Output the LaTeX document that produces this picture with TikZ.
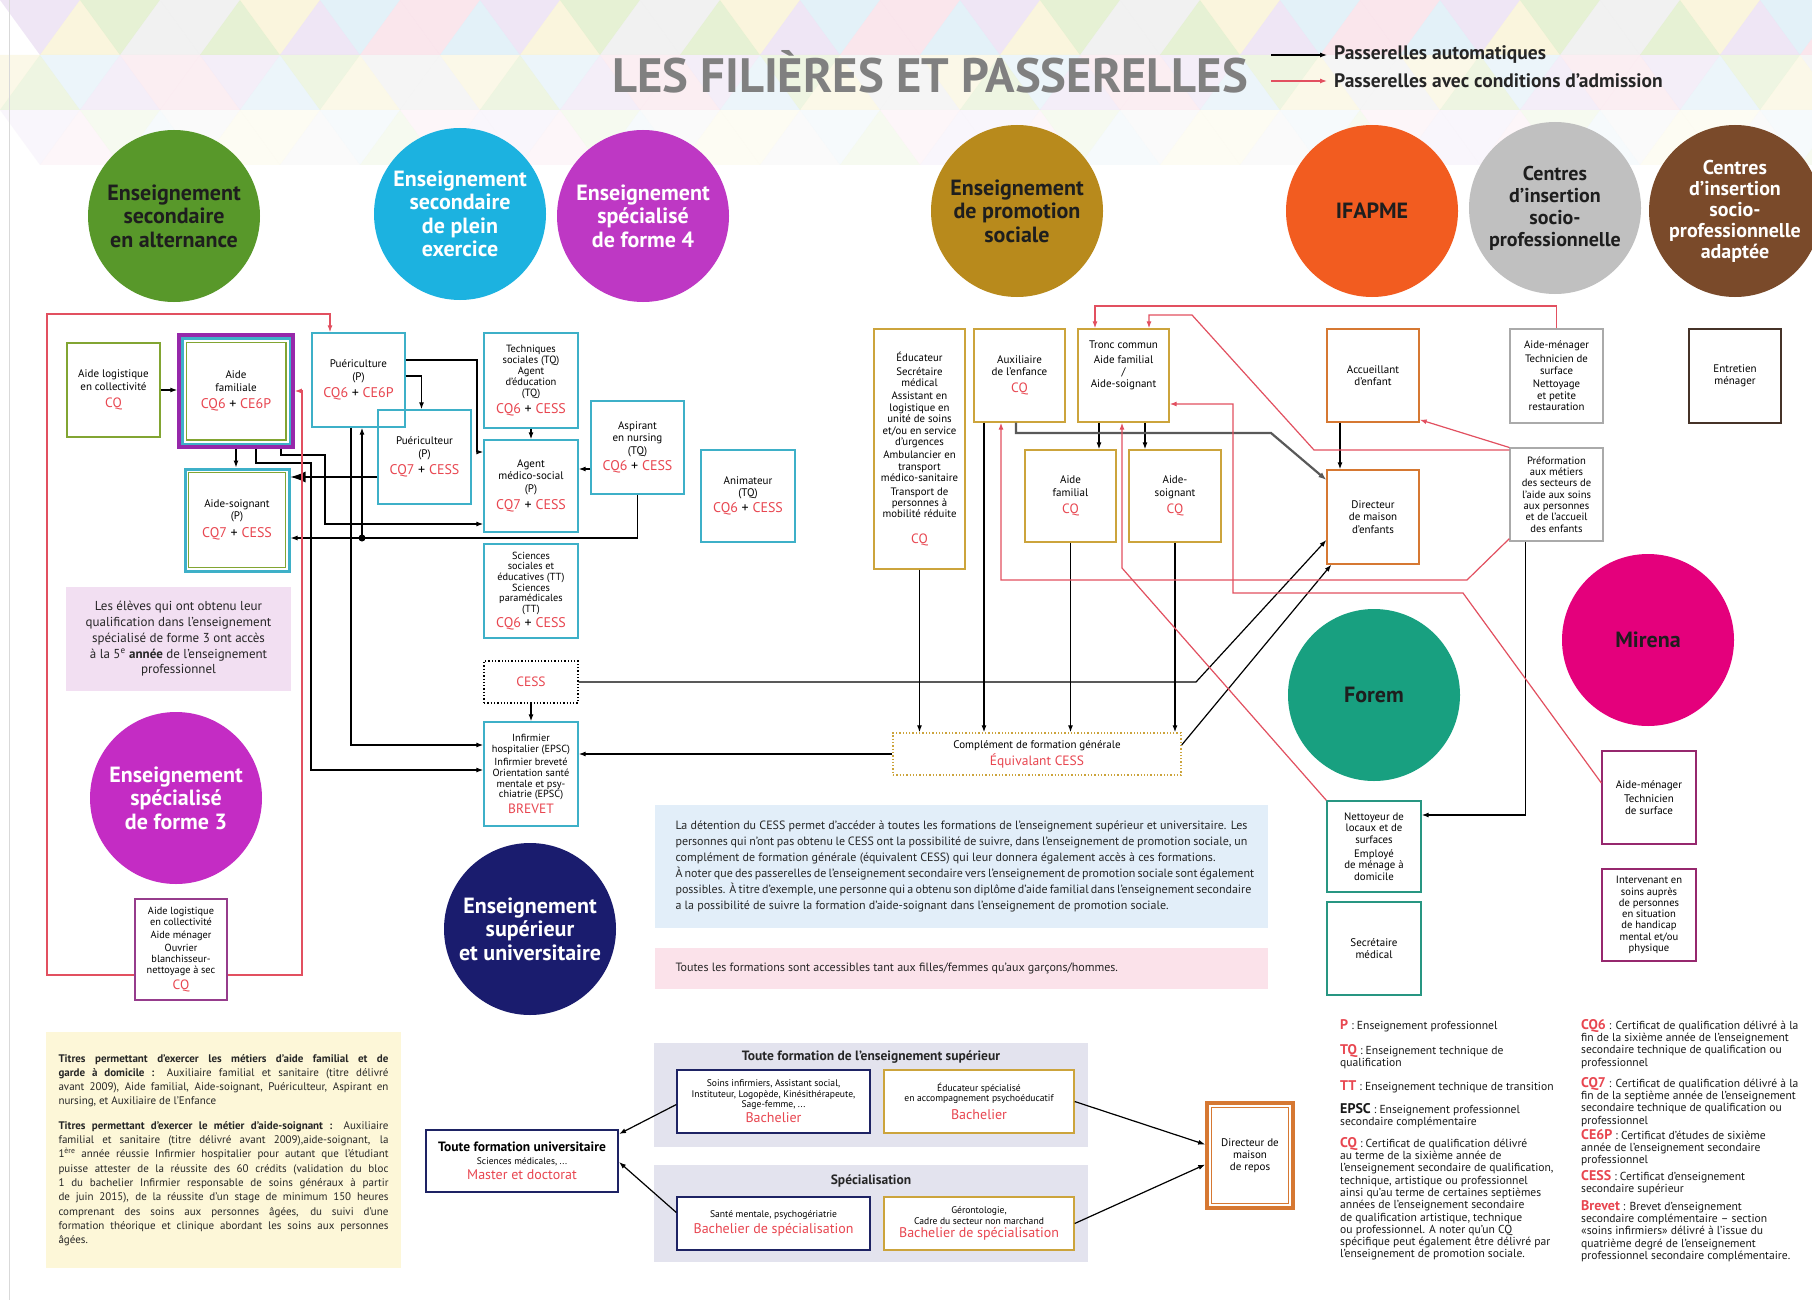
\documentclass[tikz,border=0pt]{standalone}
\usepackage{fontspec}
\setmainfont{PT Sans}
\usepackage{graphicx}
\usetikzlibrary{arrows.meta}
\definecolor{cgreen}{RGB}{88,152,42}
\definecolor{ccyan}{RGB}{28,178,224}
\definecolor{cpurple}{RGB}{190,56,196}
\definecolor{cgold}{RGB}{184,138,28}
\definecolor{corange}{RGB}{242,92,32}
\definecolor{cgray}{RGB}{192,192,192}
\definecolor{cbrown}{RGB}{122,74,42}
\definecolor{cpink}{RGB}{196,44,196}
\definecolor{cnavy}{RGB}{26,28,110}
\definecolor{cforem}{RGB}{24,160,128}
\definecolor{cmirena}{RGB}{228,0,124}
\definecolor{cdark}{RGB}{30,30,30}
\definecolor{cyb}{RGB}{62,176,200}
\definecolor{olive}{RGB}{130,165,50}
\definecolor{pframe}{RGB}{150,40,170}
\definecolor{goldb}{RGB}{204,164,60}
\definecolor{borange}{RGB}{214,120,50}
\definecolor{grayb}{RGB}{170,170,170}
\definecolor{tealb}{RGB}{40,150,130}
\definecolor{magb}{RGB}{150,40,110}
\definecolor{bnavy}{RGB}{30,35,100}
\definecolor{entb}{RGB}{70,50,40}
\definecolor{f3box}{RGB}{150,60,140}
\definecolor{pasred}{RGB}{226,80,96}
\definecolor{txtred}{RGB}{232,70,80}
\definecolor{titlegray}{RGB}{128,128,128}
\definecolor{infoblue}{RGB}{226,238,249}
\definecolor{pinkbg}{RGB}{251,226,234}
\definecolor{notebg}{RGB}{242,223,242}
\definecolor{yelbg}{RGB}{253,247,216}
\definecolor{panelgray}{RGB}{227,227,238}
\definecolor{tri0}{RGB}{200,225,160}
\definecolor{tri1}{RGB}{220,200,235}
\definecolor{tri2}{RGB}{245,200,215}
\definecolor{tri3}{RGB}{195,225,240}
\definecolor{tri4}{RGB}{245,235,180}
\definecolor{tri5}{RGB}{225,225,225}
\newcommand\rtx[1]{{\fontsize{13.5}{14}\selectfont\color{txtred}#1}}
\newcommand\combo[2]{{\fontsize{14}{15}\selectfont\textcolor{txtred}{#1} + \textcolor{txtred}{#2}}}
\newcommand\lterm[1]{{\fontsize{14}{12}\selectfont\bfseries\color{txtred}#1}}
\begin{document}
\begin{tikzpicture}[x=1pt,y=-1pt,
  bx/.style={draw, line width=1.3pt, fill=white, align=center, inner sep=2pt,
    font=\fontsize{11}{12.3}\selectfont, text=black},
  aut/.style={draw=black, line width=1.2pt, -{Latex[length=7pt,width=5pt]}},
  pas/.style={draw=pasred, line width=1.2pt, -{Latex[length=7pt,width=5pt]}},
  graut/.style={draw=black!65, line width=2.2pt, -{Latex[length=8pt,width=6pt]}},
  circ/.style={circle, minimum size=172pt, inner sep=0pt, align=center,
    font=\fontsize{22}{23.5}\selectfont\bfseries},
  leg/.style={anchor=north west, align=left, inner sep=0pt,
    font=\fontsize{11.6}{12.3}\selectfont, text=black!90}]
\useasboundingbox (0,0) rectangle (1812,1300);
\clip (0,0) rectangle (1812,1300);
\fill[white] (0,0) rectangle (1812,1300);
% background triangles
\foreach \j in {0,1,2}{
  \foreach \i in {0,...,23}{
    \pgfmathtruncatemacro\ca{mod(\i*5+\j*3+1,6)}
    \pgfmathtruncatemacro\cb{mod(\i*7+\j*2+4,6)}
    \pgfmathsetmacro\op{0.45-0.15*\j}
    \pgfmathsetmacro\xo{\i*80-40*mod(\j,2)}
    \fill[tri\ca, opacity=\op] (\xo,\j*55) -- ++(80,0) -- ++(-40,55) -- cycle;
    \fill[tri\cb, opacity=\op] (\xo+40,\j*55+55) -- ++(40,-55) -- ++(40,55) -- cycle;
  }
}
\draw[black!15, line width=1pt] (9,0) -- (9,1300);
% title and legend
\node[text=titlegray, inner sep=0pt] (title) at (930,72) {\resizebox{636pt}{42pt}{\bfseries LES FILIÈRES ET PASSERELLES}};
\coordinate (la1) at (1271,55); \coordinate (la2) at (1327,55);
\coordinate (lb1) at (1271,81); \coordinate (lb2) at (1327,81);
\draw[aut] (la1) -- (la2);
\draw[pas] (lb1) -- (lb2);
\node[anchor=west, inner sep=0pt, font=\fontsize{19.5}{20}\selectfont\bfseries, text=black!85] (lta) at (1334,55) {Passerelles automatiques};
\node[anchor=west, inner sep=0pt, font=\fontsize{19.5}{20}\selectfont\bfseries, text=black!85] (ltb) at (1334,81) {Passerelles avec conditions d'admission};
% circles
\node[circ, fill=cgreen, text=cdark] (c1) at (174,216) {Enseignement\\secondaire\\en alternance};
\node[circ, fill=ccyan, text=white] (c2) at (460,214) {Enseignement\\secondaire\\de plein\\exercice};
\node[circ, fill=cpurple, text=white] (c3) at (643,216) {Enseignement\\spécialisé\\de forme 4};
\node[circ, fill=cgold, text=cdark] (c4) at (1017,211) {Enseignement\\de promotion\\sociale};
\node[circ, fill=corange, text=cdark] (c5) at (1372,211) {IFAPME};
\node[circ, fill=cgray, text=cdark, font=\fontsize{20}{22}\selectfont\bfseries] (c6) at (1555,208) {Centres\\d'insertion\\socio-\\professionnelle};
\node[circ, fill=cbrown, text=white, font=\fontsize{20}{21}\selectfont\bfseries] (c7) at (1735,211) {Centres\\d'insertion\\socio-\\professionnelle\\adaptée};
\node[circ, fill=cpink, text=white] (c8) at (176,798) {Enseignement\\spécialisé\\de forme 3};
\node[circ, fill=cnavy, text=white] (c9) at (530,929) {Enseignement\\supérieur\\et universitaire};
\node[circ, fill=cforem, text=cdark] (c10) at (1374,695) {Forem};
\node[circ, fill=cmirena, text=cdark] (c11) at (1648,640) {Mirena};
% text panels
\node[fill=notebg, minimum width=225pt, minimum height=104pt, align=center, text=black!85,
  font=\fontsize{13}{15.8}\selectfont] (note) at (178.5,639) {Les élèves qui ont obtenu leur\\qualification dans l'enseignement\\spécialisé de forme 3 ont accès\\à la 5\textsuperscript{e} \textbf{année} de l'enseignement\\professionnel};
\node[fill=infoblue, minimum width=613pt, minimum height=123pt, align=left, inner sep=0pt, text=black!85,
  font=\fontsize{12}{16.1}\selectfont] (info) at (961.5,866.5) {%
\makebox[572pt][s]{La détention du CESS permet d'accéder à toutes les formations de l'enseignement supérieur et universitaire. Les}\\
\makebox[572pt][s]{personnes qui n'ont pas obtenu le CESS ont la possibilité de suivre, dans l'enseignement de promotion sociale, un}\\
\makebox[572pt][l]{complément de formation générale (équivalent CESS) qui leur donnera également accès à ces formations.}\\
\makebox[572pt][s]{À noter que des passerelles de l'enseignement secondaire vers l'enseignement de promotion sociale sont également}\\
\makebox[572pt][s]{possibles. À titre d'exemple, une personne qui a obtenu son diplôme d'aide familial dans l'enseignement secondaire}\\
\makebox[572pt][l]{a la possibilité de suivre la formation d'aide-soignant dans l'enseignement de promotion sociale.}};
\node[fill=pinkbg, minimum width=613pt, minimum height=41pt, align=left, inner sep=0pt, text=black!85,
  font=\fontsize{12}{13}\selectfont] (pinkb) at (961.5,968.5) {\makebox[572pt][l]{Toutes les formations sont accessibles tant aux filles/femmes qu'aux garçons/hommes.}};
\node[fill=yelbg, minimum width=355pt, minimum height=236pt, align=left, inner sep=0pt, text=black!85,
  font=\fontsize{11}{14.3}\selectfont] (yel) at (223.5,1150) {%
\makebox[330pt][s]{\textbf{Titres permettant d'exercer les métiers d'aide familial et de}}\\
\makebox[330pt][s]{\textbf{garde à domicile :} Auxiliaire familial et sanitaire (titre délivré}\\
\makebox[330pt][s]{avant 2009), Aide familial, Aide-soignant, Puériculteur, Aspirant en}\\
\makebox[330pt][l]{nursing, et Auxiliaire de l'Enfance}\\[10pt]
\makebox[330pt][s]{\textbf{Titres permettant d'exercer le métier d'aide-soignant :} Auxiliaire}\\
\makebox[330pt][s]{familial et sanitaire (titre délivré avant 2009),aide-soignant, la}\\
\makebox[330pt][s]{1\textsuperscript{ère} année réussie Infirmier hospitalier pour autant que l'étudiant}\\
\makebox[330pt][s]{puisse attester de la réussite des 60 crédits (validation du bloc}\\
\makebox[330pt][s]{1 du bachelier Infirmier responsable de soins généraux à partir}\\
\makebox[330pt][s]{de juin 2015), de la réussite d'un stage de minimum 150 heures}\\
\makebox[330pt][s]{comprenant des soins aux personnes âgées, du suivi d'une}\\
\makebox[330pt][s]{formation théorique et clinique abordant les soins aux personnes}\\
\makebox[330pt][l]{âgées.}};
\node[fill=panelgray, minimum width=434pt, minimum height=104pt] (pan1) at (871,1095) {};
\node[fill=panelgray, minimum width=434pt, minimum height=97pt] (pan2) at (871,1213.5) {};
\node[font=\fontsize{13.5}{15}\selectfont\bfseries, text=black!85] (pan1t) at (871,1057) {Toute formation de l'enseignement supérieur};
\node[font=\fontsize{13.5}{15}\selectfont\bfseries, text=black!85] (pan2t) at (871,1181) {Spécialisation};
% ---------- boxes: secondary ----------
\node[bx, draw=olive, minimum width=93pt, minimum height=94pt] (alog) at (113.5,390) {Aide logistique\\en collectivité\\[5pt]\rtx{CQ}};
\node[bx, draw=pframe, line width=3.5pt, minimum width=114pt, minimum height=112pt] (af) at (236,391) {Aide\\familiale\\[5pt]\combo{CQ6}{CE6P}};
\draw[cyb, line width=2.5pt] ([shift={(5,5)}]af.north west) rectangle ([shift={(-5,-5)}]af.south east);
\draw[olive, line width=1.5pt] ([shift={(9,9)}]af.north west) rectangle ([shift={(-9,-9)}]af.south east);
\node[bx, draw=cyb, line width=3pt, minimum width=104pt, minimum height=102pt] (as) at (237,520) {Aide-soignant\\(P)\\[5pt]\combo{CQ7}{CESS}};
\draw[olive, line width=1.5pt] ([shift={(5,5)}]as.north west) rectangle ([shift={(-5,-5)}]as.south east);
\node[bx, draw=cyb, fill=none, minimum width=93pt, minimum height=94pt] (pc) at (358.5,380) {Puériculture\\(P)\\[4pt]\combo{CQ6}{CE6P}};
\node[bx, draw=cyb, fill=none, minimum width=93pt, minimum height=94pt] (pr) at (424.5,457) {Puériculteur\\(P)\\[4pt]\combo{CQ7}{CESS}};
\node[bx, draw=cyb, minimum width=94pt, minimum height=95pt, font=\fontsize{10.5}{11}\selectfont] (ts) at (531,380.5) {Techniques\\sociales (TQ)\\Agent\\d'éducation\\(TQ)\\[3pt]\combo{CQ6}{CESS}};
\node[bx, draw=cyb, minimum width=94pt, minimum height=92pt] (ams) at (531,486) {Agent\\médico-social\\(P)\\[4pt]\combo{CQ7}{CESS}};
\node[bx, draw=cyb, minimum width=93pt, minimum height=93pt] (asp) at (637.5,447.5) {Aspirant\\en nursing\\(TQ)\\[3pt]\combo{CQ6}{CESS}};
\node[bx, draw=cyb, minimum width=94pt, minimum height=92pt] (ani) at (748,496) {Animateur\\(TQ)\\[3pt]\combo{CQ6}{CESS}};
\node[bx, draw=cyb, minimum width=94pt, minimum height=94pt, font=\fontsize{10.3}{10.6}\selectfont] (sci) at (531,591) {Sciences\\sociales et\\éducatives (TT)\\Sciences\\paramédicales\\(TT)\\[2pt]\combo{CQ6}{CESS}};
\node[bx, draw=black, dotted, line width=1.4pt, minimum width=94pt, minimum height=42pt] (cess) at (531,682) {\rtx{CESS}};
\node[bx, draw=cyb, minimum width=94pt, minimum height=104pt, font=\fontsize{10.3}{10.9}\selectfont] (inf) at (531,774) {Infirmier\\hospitalier (EPSC)\\[2pt]Infirmier breveté\\Orientation santé\\mentale et psy-\\chiatrie (EPSC)\\[3pt]\rtx{BREVET}};
\node[bx, draw=f3box, minimum width=92pt, minimum height=101pt, font=\fontsize{10.3}{10.9}\selectfont] (f3cq) at (181,949.5) {Aide logistique\\en collectivité\\[2pt]Aide ménager\\[2pt]Ouvrier\\blanchisseur-\\nettoyage à sec\\[3pt]\rtx{CQ}};
% ---------- boxes: promotion sociale ----------
\node[bx, draw=goldb, minimum width=91pt, minimum height=240pt, font=\fontsize{10.8}{11.4}\selectfont] (edu) at (919.5,449) {Éducateur\\[2pt]Secrétaire\\médical\\[2pt]Assistant en\\logistique en\\unité de soins\\et/ou en service\\d'urgences\\[2pt]Ambulancier en\\transport\\médico-sanitaire\\[2pt]Transport de\\personnes à\\mobilité réduite\\[14pt]\rtx{CQ}};
\node[bx, draw=goldb, minimum width=91pt, minimum height=93pt] (aux) at (1019.5,375.5) {Auxiliaire\\de l'enfance\\[5pt]\rtx{CQ}};
\node[bx, draw=goldb, minimum width=91pt, minimum height=93pt] (tc) at (1123.5,375.5) {Tronc commun\\[2pt]Aide familial\\/\\Aide-soignant\\[10pt]\mbox{}};
\node[bx, draw=goldb, minimum width=91pt, minimum height=92pt] (afc) at (1070.5,496) {Aide\\familial\\[5pt]\rtx{CQ}};
\node[bx, draw=goldb, minimum width=92pt, minimum height=92pt] (asc) at (1175,496) {Aide-\\soignant\\[5pt]\rtx{CQ}};
\node[bx, draw=goldb, dotted, line width=1.4pt, minimum width=288pt, minimum height=42pt] (comp) at (1037,754) {Complément de formation générale\\[2pt]\rtx{Équivalant CESS}};
% ---------- boxes: IFAPME / CISP / Forem / Mirena ----------
\node[bx, draw=borange, minimum width=92pt, minimum height=93pt] (acc) at (1373,375.5) {Accueillant\\d'enfant};
\node[bx, draw=borange, minimum width=92pt, minimum height=94pt] (dir) at (1373,517) {Directeur\\de maison\\d'enfants};
\node[bx, draw=grayb, minimum width=93pt, minimum height=94pt, font=\fontsize{10.8}{11.6}\selectfont] (am) at (1556.5,376) {Aide-ménager\\[2pt]Technicien de\\surface\\[2pt]Nettoyage\\et petite\\restauration};
\node[bx, draw=grayb, minimum width=93pt, minimum height=93pt, font=\fontsize{10.6}{11.3}\selectfont] (pre) at (1556.5,494.5) {Préformation\\aux métiers\\des secteurs de\\l'aide aux soins\\aux personnes\\et de l'accueil\\des enfants};
\node[bx, draw=entb, minimum width=92pt, minimum height=94pt] (ent) at (1735,376) {Entretien\\ménager};
\node[bx, draw=tealb, minimum width=94pt, minimum height=91pt, font=\fontsize{10.8}{11.6}\selectfont] (net) at (1374,846.5) {Nettoyeur de\\locaux et de\\surfaces\\[2pt]Employé\\de ménage à\\domicile};
\node[bx, draw=tealb, minimum width=94pt, minimum height=93pt] (sec) at (1374,948.5) {Secrétaire\\médical};
\node[bx, draw=magb, minimum width=94pt, minimum height=93pt] (mam) at (1649,797.5) {Aide-ménager\\[2pt]Technicien\\de surface};
\node[bx, draw=magb, minimum width=94pt, minimum height=92pt, font=\fontsize{10.6}{11.3}\selectfont] (mint) at (1649,915) {Intervenant en\\soins auprès\\de personnes\\en situation\\de handicap\\mental et/ou\\physique};
% ---------- bottom boxes ----------
\node[bx, draw=bnavy, line width=2pt, minimum width=192pt, minimum height=62pt] (univ) at (522,1161) {{\fontsize{13.5}{14}\selectfont\bfseries Toute formation universitaire}\\{\fontsize{9.5}{11}\selectfont Sciences médicales, ...}\\[3pt]{\fontsize{14}{15}\selectfont\color{txtred}Master et doctorat}};
\node[bx, draw=bnavy, minimum width=193pt, minimum height=63pt, font=\fontsize{9.6}{10.6}\selectfont] (b1) at (773.5,1101.5) {Soins infirmiers, Assistant social,\\Instituteur, Logopède, Kinésithérapeute,\\Sage-femme, ...\\[2pt]{\fontsize{14}{15}\selectfont\color{txtred}Bachelier}};
\node[bx, draw=goldb, minimum width=190pt, minimum height=63pt, font=\fontsize{9.6}{10.6}\selectfont] (b2) at (979,1101.5) {Éducateur spécialisé\\en accompagnement psychoéducatif\\[5pt]{\fontsize{14}{15}\selectfont\color{txtred}Bachelier}};
\node[bx, draw=bnavy, minimum width=193pt, minimum height=53pt, font=\fontsize{9.6}{10.6}\selectfont] (b3) at (773.5,1223.5) {Santé mentale, psychogériatrie\\[3pt]{\fontsize{14}{15}\selectfont\color{txtred}Bachelier de spécialisation}};
\node[bx, draw=goldb, minimum width=190pt, minimum height=53pt, font=\fontsize{9.6}{10.6}\selectfont] (b4) at (979,1223.5) {Gérontologie,\\Cadre du secteur non marchand\\[3pt]{\fontsize{14}{15}\selectfont\color{txtred}Bachelier de spécialisation}};
\node[bx, draw=borange, line width=3.5pt, minimum width=86pt, minimum height=105pt] (rep) at (1250,1155.5) {Directeur de\\maison\\de repos};
\draw[borange, line width=1pt] ([shift={(6,6)}]rep.north west) rectangle ([shift={(-6,-6)}]rep.south east);
% ---------- connectors (black) ----------
\draw[aut] (alog.east) -- (af.west |- alog.east);
\draw[aut] (af.south) -- (af.south |- as.north);
\draw[aut] ([xshift=20pt]af.south) |- (311,463) |- ([yshift=4pt]inf.west);
\draw[aut] ([xshift=45pt]af.south) |- (325,455) |- ([yshift=-38pt]ams.west);
\draw[draw=black, line width=1.2pt, -{Latex[length=15pt,width=11pt]}] ([yshift=-20pt]pr.west) -- ([yshift=43pt]as.east);
\draw[aut] ([yshift=4pt]pc.east) -| ([xshift=-3pt]pr.north);
\draw[aut] ([yshift=20pt]pc.east) -| (477,452) -- ([yshift=34pt]ams.west);
\draw[aut] (ts.south) -- (ams.north);
\draw[aut] ([yshift=-21.5pt]asp.west) -- ([yshift=17pt]ams.east);
\draw[aut] (asp.south) |- ([yshift=-18pt]as.east);
\coordinate (jd) at (362,538);
\fill (jd) circle (3.5pt);
\draw[aut] (jd) -- ([xshift=3.5pt]pc.south);
\draw[aut] ([xshift=-7.5pt]pc.south) |- ([yshift=29pt]inf.west);
\draw[aut] (cess.south) -- (inf.north);
\draw[aut] (cess.east) -- (1196,682) -- ([yshift=-23pt]dir.west);
\draw[aut] (comp.west) -- (inf.east |- comp.west);
\draw[aut] ([yshift=9pt]comp.east) -- ([xshift=5pt]dir.south west);
\draw[aut] (edu.south) -- (edu.south |- comp.north);
\coordinate (paux) at ([xshift=-35.5pt]aux.south);
\draw[aut] (paux) -- (paux |- comp.north);
\coordinate (ptc1) at ([xshift=-24.5pt]tc.south);
\coordinate (ptc2) at ([xshift=21.5pt]tc.south);
\draw[aut] (ptc1) -- (ptc1 |- afc.north);
\draw[aut] (ptc2) -- (ptc2 |- asc.north);
\draw[aut] (afc.south) -- (afc.south |- comp.north);
\draw[aut] (asc.south) -- (asc.south |- comp.north);
\draw[graut] ([xshift=-3.5pt]aux.south) |- (1271,433) -- ([yshift=37pt]dir.west);
\coordinate (pacc) at ([xshift=-33pt]acc.south);
\draw[aut] (pacc) -- (pacc |- dir.north);
\draw[aut] ([xshift=-31pt]pre.south) |- ([yshift=31.5pt]net.east);
\draw[aut] ([yshift=-3pt]b1.west) -- ([yshift=27pt]univ.east);
\draw[aut] ([yshift=11pt]b3.west) -- ([yshift=-1pt]univ.east);
\draw[aut] (b2.east) -- ([yshift=11pt]rep.west);
\draw[aut] (b4.east) -- ([yshift=-9pt]rep.west);
% ---------- connectors (red) ----------
\draw[pas] ([yshift=-25.5pt]f3cq.east) -| (302,391) -- (af.east);
\draw[pas] ([yshift=-25.5pt]f3cq.west) -| (47,314) -| ([xshift=-28.5pt]pc.north);
\draw[pas] (am.north) |- (1095,306) -- ([xshift=-28.5pt]tc.north);
\draw[pas] ([yshift=44.5pt]pre.west) -- (1314,450) -- (1192,315) -| ([xshift=25.5pt]tc.north);
\draw[pas] ([yshift=47pt]pre.west) -- ([yshift=3pt]acc.south east);
\draw[pas] ([yshift=3pt]pre.south west) -- (1467,580) -| ([xshift=-18.5pt]aux.south);
\draw[pas] ([yshift=14.5pt]mam.west) -- (1463,593) -- (1233,593) |- ([yshift=-28.5pt]tc.east);
\draw[pas] (net.north west) -- (1122,568) -- ([xshift=-1.5pt]tc.south);
% ---------- legend ----------
\node[leg] (lP) at (1340,1019) {\lterm{P} : Enseignement professionnel};
\node[leg] (lTQ) at (1340,1044) {\lterm{TQ} : Enseignement technique de\\qualification};
\node[leg] (lTT) at (1340,1080) {\lterm{TT} : Enseignement technique de transition};
\node[leg] (lEP) at (1340,1103) {{\fontsize{14}{12}\selectfont\bfseries EPSC} : Enseignement professionnel\\secondaire complémentaire};
\node[leg] (lCQ) at (1340,1137) {\lterm{CQ} : Certificat de qualification délivré\\au terme de la sixième année de\\l'enseignement secondaire de qualification,\\technique, artistique ou professionnel\\ainsi qu'au terme de certaines septièmes\\années de l'enseignement secondaire\\de qualification artistique, technique\\ou professionnel. A noter qu'un CQ\\spécifique peut également être délivré par\\l'enseignement de promotion sociale.};
\node[leg] (lCQ6) at (1581,1019) {\lterm{CQ6} : Certificat de qualification délivré à la\\fin de la sixième année de l'enseignement\\secondaire technique de qualification ou\\professionnel};
\node[leg] (lCQ7) at (1581,1077) {\lterm{CQ7} : Certificat de qualification délivré à la\\fin de la septième année de l'enseignement\\secondaire technique de qualification ou\\professionnel};
\node[leg] (lCE) at (1581,1129) {\lterm{CE6P} : Certificat d'études de sixième\\année de l'enseignement secondaire\\professionnel};
\node[leg] (lCESS) at (1581,1170) {\lterm{CESS} : Certificat d'enseignement\\secondaire supérieur};
\node[leg] (lBr) at (1581,1200) {\lterm{Brevet} : Brevet d'enseignement\\secondaire complémentaire – section\\«soins infirmiers» délivré à l'issue du\\quatrième degré de l'enseignement\\professionnel secondaire complémentaire.};
\end{tikzpicture}
\end{document}
